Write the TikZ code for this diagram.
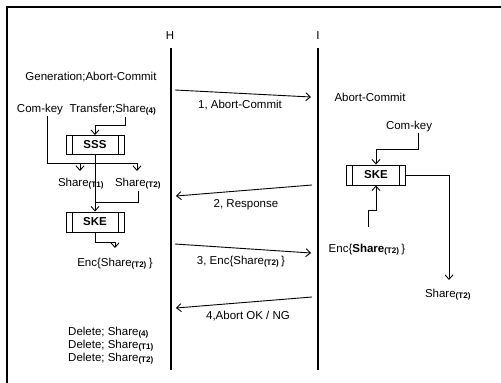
\documentclass[tikz,border=0pt]{standalone}
\usepackage{fontspec}
\setmainfont{Liberation Sans}
\usetikzlibrary{arrows.meta}
\newcommand{\shr}[1]{Share\textsubscript{\bfseries(#1)}}

\begin{document}
\begin{tikzpicture}[x=1pt,y=-1pt,
        every node/.append style={font=\fontsize{11.5}{13}\selectfont, inner sep=1pt, anchor=base},
        proc/.style={draw, line width=0.9pt, minimum width=58pt, minimum height=19pt, anchor=center,
            font=\fontsize{11.5}{13}\selectfont\bfseries,
            path picture={\draw ([xshift=6pt]path picture bounding box.north west) -- ([xshift=6pt]path picture bounding box.south west)
                ([xshift=-6pt]path picture bounding box.north east) -- ([xshift=-6pt]path picture bounding box.south east);}},
        msg/.style={-{Straight Barb[length=4.5pt,width=8pt]}, line width=0.9pt},
        flow/.style={line width=0.9pt},
        life/.style={line width=1.2pt}]
    \useasboundingbox (0,0) rectangle (501,383);
    \draw[line width=1.6pt] (7,383) |- (501,7);

    \node (hlab) at (170,39) {H};
    \node (ilab) at (318,39) {I};
    \coordinate (hTop) at (171,48);
    \coordinate (hBot) at (171,370);
    \coordinate (iTop) at (318,48);
    \coordinate (iBot) at (318,370);
    \draw[life] (hTop) -- (hBot);
    \draw[life] (iTop) -- (iBot);

    \coordinate (m1s) at (175,90);
    \coordinate (m1e) at (311,97);
    \coordinate (m2s) at (312,185);
    \coordinate (m2e) at (176,196);
    \coordinate (m3s) at (175,244);
    \coordinate (m3e) at (311,253);
    \coordinate (m4s) at (312,297);
    \coordinate (m4e) at (176,308);
    \draw[msg] (m1s) -- (m1e);
    \draw[msg] (m2s) -- (m2e);
    \draw[msg] (m3s) -- (m3e);
    \draw[msg] (m4s) -- (m4e);
    \node (msgA) at (240,108) {1, Abort-Commit};
    \node (msgB) at (246,207) {2, Response};
    \node (msgC) at (241,264) {3, Enc\{\shr{T2}\,\}};
    \node (msgD) at (248,319) {4,Abort OK / NG};

    \node (gen) at (91,80) {Generation;Abort-Commit};
    \node (ckL) at (40,112) {Com-key};
    \node (tr) at (113,112) {Transfer;\shr{4}};
    \node[proc] (sss) at (95,145) {SSS};
    \node (shA) at (81,186) {\shr{T1}};
    \node (shB) at (138,186) {\shr{T2}};
    \node[proc, minimum height=20pt] (skeL) at (95,222) {SKE};
    \node (encL) at (115,266) {Enc\{\shr{T2}\,\}};
    \node[anchor=base west] (delA) at (67,335) {Delete; \shr{4}};
    \node[anchor=base west] (delB) at (67,348) {Delete; \shr{T1}};
    \node[anchor=base west] (delC) at (67,361) {Delete; \shr{T2}};

    \coordinate (kA) at (80,163);
    \coordinate (kB) at (137,163);
    \coordinate (kAe) at (80,171);
    \coordinate (kBe) at (137,171);
    \draw[flow] ([xshift=7pt]ckL.south) |- (kB);
    \draw[msg] (kA) -- (kAe);
    \draw[msg] (kB) -- (kBe);
    \draw[msg] ([xshift=12pt]tr.south) |- (95,125) -- (sss.north);
    \draw[msg] (sss.south) -- (skeL.north);
    \draw[flow] (shB.south) |- (95,202);
    \coordinate (eL) at (115,248);
    \draw[msg] (skeL.south) |- (115,242) -- (eL);

    \node (acR) at (370,101) {Abort-Commit};
    \node (ckR) at (409,129) {Com-key};
    \node[proc, minimum width=59pt, minimum height=20pt] (skeR) at (376,175) {SKE};
    \node (encR) at (367,252) {Enc\{\textbf{Share}\textsubscript{\bfseries(T2)}\,\}};
    \node (shR) at (448,297) {\shr{T2}};
    \coordinate (eR) at (368,227);
    \coordinate (sR) at (449,280);
    \draw[msg] ([xshift=9pt]ckR.south) |- (376,149) -- (skeR.north);
    \draw[msg] (eR) |- (376,210) -- (skeR.south);
    \draw[msg] (skeR.east) -| (sR);
\end{tikzpicture}
\end{document}
